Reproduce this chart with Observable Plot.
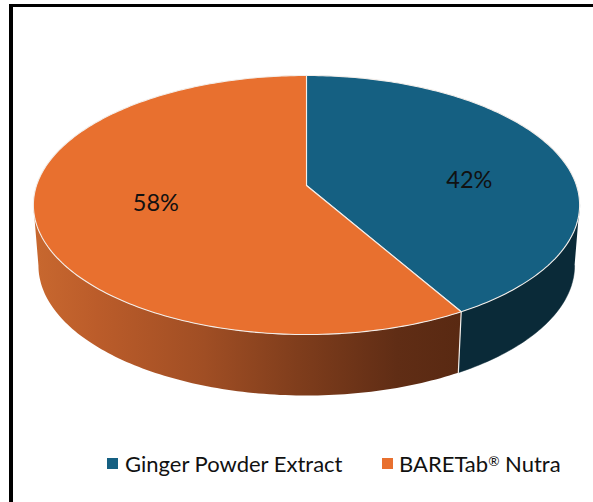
<!DOCTYPE html>
<html>
<head>
<meta charset="utf-8">
<script src="https://cdn.jsdelivr.net/npm/d3@7"></script>
<script src="https://cdn.jsdelivr.net/npm/@observablehq/plot@0.6"></script>
<style>
  html, body { margin: 0; padding: 0; background: #fff; width: 593px; height: 502px; overflow: hidden; }
  #frame { position: absolute; left: 9px; top: 4px; width: 584px; height: 498px; box-sizing: border-box;
           border-left: 4px solid #000; border-top: 3.4px solid #000; }
  #chart { position: absolute; left: 0; top: 0; }
  #legend { position: absolute; left: 0; top: 448px; width: 593px; height: 32px; font: 22px Lato, sans-serif; color: #111; }
  .k { position: absolute; top: 10px; width: 11px; height: 11px; }
  .t { position: absolute; top: 2px; white-space: nowrap; }
  sup { font-size: 0.62em; line-height: 0; vertical-align: 0.45em; }
</style>
</head>
<body>
<div id="frame"></div>
<div id="chart"></div>
<div id="legend"></div>
<script>
const names = ["Ginger Powder Extract", "BARETab® Nutra"];
const shares = [41.7, 58.3];
const topColors = ["#156082", "#e8702f"];
const sideDark = "#0a2a38";

// pie geometry: a circle seen in perspective
const W = 593, H = 440;
const cx = 306, k = -0.1506;
const topRim = {yc: 185, a: 126.6, b: 270};
const lowRim = {yc: 245.5, a: 127, b: 265};

function project(rim, thetaDeg, r = 1) {
  const t = thetaDeg * Math.PI / 180;
  const u = Math.sin(t) * r, v = -Math.cos(t) * r;
  const w = 1 + k * v;
  return {x: cx + rim.b * u / w, y: rim.yc + rim.a * v / w};
}
function arc(rim, from, to) {
  const n = Math.max(2, Math.ceil(Math.abs(to - from)));
  return d3.range(n + 1).map(i => project(rim, from + (to - from) * i / n));
}
const total = d3.sum(shares);
const cut = shares[0] / total * 360;
const silhouette = Math.acos(k) * 180 / Math.PI; // rim angle where the wall becomes visible
const apex = {x: cx, y: topRim.yc};

const blueTop = [apex, ...arc(topRim, 0, cut), apex];
const orangeTop = [apex, ...arc(topRim, cut, 360), apex];
const blueWall = [...arc(topRim, silhouette, cut), ...arc(lowRim, cut, silhouette)];
const orangeWall = [...arc(topRim, cut, 360 - silhouette), ...arc(lowRim, 360 - silhouette, cut)];
const divider = [project(topRim, cut), project(lowRim, cut)];

const mids = [cut / 2, cut + (360 - cut) / 2];
const labelReach = [0.64, 0.565];
const labelDrop = [15, -0.5];
const labels = shares.map((s, i) => ({
  ...project(topRim, mids[i], labelReach[i]),
  text: d3.format(".0f")(s) + "%",
  drop: labelDrop[i]
}));

const gradient = () => {
  const defs = d3.create("svg:defs");
  const g = defs.append("linearGradient").attr("id", "wallShade");
  [[0, "#c8682f"], [0.15, "#bb5c2a"], [0.4, "#a04e24"], [0.62, "#7f3d1c"], [0.85, "#602d15"], [1, "#592912"]]
    .forEach(([o, c]) => g.append("stop").attr("offset", o).attr("stop-color", c));
  return defs.node();
};

const line = {x: "x", y: "y"};
const rimStroke = "#f3eeea";
const chart = Plot.plot({
  width: W, height: H,
  margin: 0,
  x: {domain: [0, W], range: [0, W], axis: null},
  y: {domain: [0, H], range: [0, H], axis: null},
  style: {background: "transparent"},
  marks: [
    gradient,
    Plot.line(blueWall, {...line, fill: sideDark, stroke: sideDark, strokeWidth: 0.5}),
    Plot.line(orangeWall, {...line, fill: "url(#wallShade)", stroke: "none"}),
    Plot.line(divider, {...line, stroke: rimStroke, strokeWidth: 1.2}),
    Plot.line(blueTop, {...line, fill: topColors[0], stroke: rimStroke, strokeWidth: 1.1, strokeLinejoin: "round"}),
    Plot.line(orangeTop, {...line, fill: topColors[1], stroke: rimStroke, strokeWidth: 1.1, strokeLinejoin: "round"}),
    Plot.text(labels, {
      x: "x", y: d => d.y + d.drop, text: "text",
      fontSize: 23.5, fontFamily: "Lato, sans-serif", fill: "#111"
    })
  ]
});
document.getElementById("chart").append(chart);

const legend = document.getElementById("legend");
const keyX = [107, 382], textX = [125, 399];
names.forEach((n, i) => {
  const key = document.createElement("div");
  key.className = "k";
  key.style.left = keyX[i] + "px";
  key.style.background = topColors[i];
  legend.append(key);
  const t = document.createElement("div");
  t.className = "t";
  t.style.left = textX[i] + "px";
  t.innerHTML = n.replace("®", "<sup>®</sup>");
  legend.append(t);
});
</script>
</body>
</html>
